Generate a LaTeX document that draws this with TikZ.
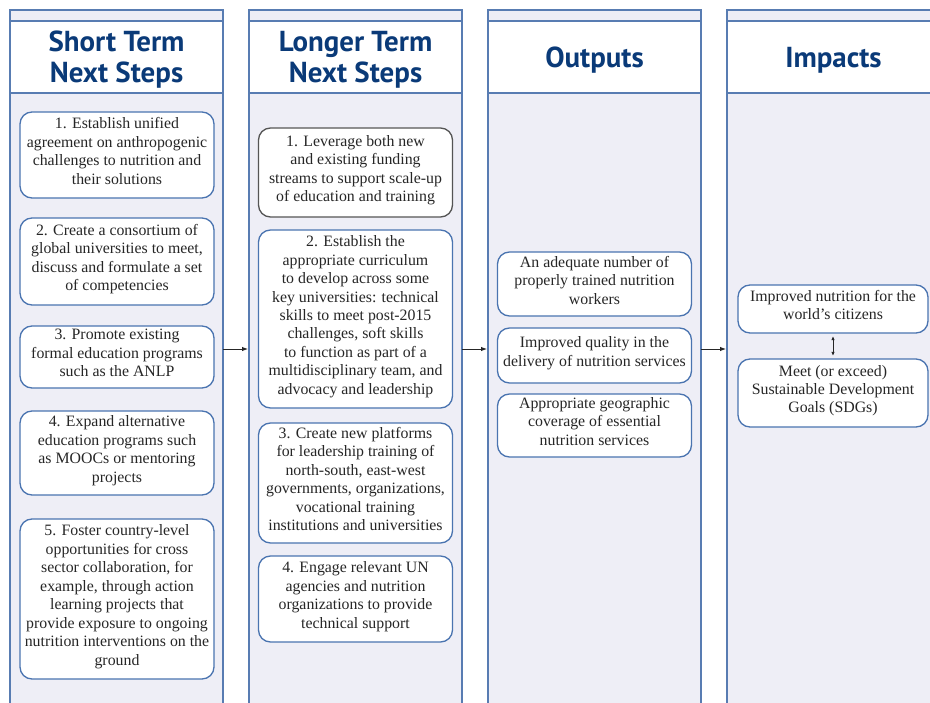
\documentclass[tikz,border=0pt]{standalone}
\usepackage{fontspec}
\setmainfont{Liberation Serif}
\newfontfamily\titulofont{PT Sans}
\usetikzlibrary{arrows.meta}
\definecolor{azulborde}{RGB}{88,124,178}
\definecolor{azulcaja}{RGB}{74,116,176}
\definecolor{azultitulo}{RGB}{10,58,120}
\definecolor{fondo}{RGB}{238,238,246}
\definecolor{grisborde}{RGB}{85,85,85}
\begin{document}
\begin{tikzpicture}[x=1bp,y=-1bp,
    columna/.style={draw=azulborde, line width=1.2bp},
    titulo/.style={font=\titulofont\bfseries\fontsize{29}{31}\selectfont, text=azultitulo, align=center},
    caja/.style={draw=azulcaja, fill=white, line width=1.3bp, rounded corners=12bp, align=center,
      minimum width=194bp, inner sep=0pt, execute at end node={\rule[-8bp]{0pt}{8bp}},
      font=\fontsize{15.9}{18.5}\selectfont, text=black!85},
    flecha/.style={-{Latex[length=6bp,width=4.5bp]}, line width=0.9bp, black!85},
    doble/.style={{Latex[length=4bp,width=3.5bp]}-{Latex[length=4bp,width=3.5bp]}, line width=0.8bp, black!85,
      shorten <=2.5bp, shorten >=2.5bp}]
    \clip (0,0) rectangle (930,703);
    % Columnas
    \foreach \x in {10,249,488,727} {
        \fill[fondo] (\x,10) rectangle ++(213,710);
        \fill[white] (\x,21) rectangle ++(213,72);
        \draw[columna] (\x,10) rectangle ++(213,710);
        \draw[columna] (\x,21) -- ++(213,0);
        \draw[columna] (\x,93) -- ++(213,0);
    }
    % Titulos
    \node[titulo] (t1) at (116.5,60) {Short Term\\Next Steps};
    \node[titulo] (t2) at (355.5,60) {Longer Term\\Next Steps};
    \node[titulo] (t3) at (594.5,60) {Outputs};
    \node[titulo] (t4) at (833.5,60) {Impacts};
    % Corto plazo
    \node[caja, minimum height=86bp] (a1) at (117,155) {1. Establish unified\\agreement on anthropogenic\\challenges to nutrition and\\their solutions};
    \node[caja, minimum height=87bp] (a2) at (117,261.5) {2. Create a consortium of\\global universities to meet,\\discuss and formulate a set\\of competencies};
    \node[caja, minimum height=62bp] (a3) at (117,357) {3. Promote existing\\formal education programs\\such as the ANLP};
    \node[caja, minimum height=84bp] (a4) at (117,453) {4. Expand alternative\\education programs such\\as MOOCs or mentoring\\projects};
    \node[caja, minimum height=160bp] (a5) at (117,599) {5. Foster country-level\\opportunities for cross\\sector collaboration, for\\example, through action\\learning projects that\\provide exposure to ongoing\\nutrition interventions on the\\ground};
    % Largo plazo
    \node[caja, draw=grisborde, minimum height=89bp] (b1) at (355.5,172.5) {1. Leverage both new\\and existing funding\\streams to support scale-up\\of education and training};
    \node[caja, minimum height=178bp] (b2) at (355.5,319) {2. Establish the\\appropriate curriculum\\to develop across some\\key universities: technical\\skills to meet post-2015\\challenges, soft skills\\to function as part of a\\multidisciplinary team, and\\advocacy and leadership};
    \node[caja, minimum height=120bp] (b3) at (355.5,483) {3. Create new platforms\\for leadership training of\\north-south, east-west\\governments, organizations,\\vocational training\\institutions and universities};
    \node[caja, minimum height=86bp] (b4) at (355.5,599) {4. Engage relevant UN\\agencies and nutrition\\organizations to provide\\technical support};
    % Resultados
    \node[caja, minimum height=64bp] (c1) at (594.5,284) {An adequate number of\\properly trained nutrition\\workers};
    \node[caja, minimum height=55bp] (c2) at (594.5,355.5) {Improved quality in the\\delivery of nutrition services};
    \node[caja, minimum height=63bp] (c3) at (594.5,425.5) {Appropriate geographic\\coverage of essential\\nutrition services};
    % Impactos
    \node[caja, minimum width=190bp, minimum height=48bp] (d1) at (833,309) {Improved nutrition for the\\world's citizens};
    \node[caja, minimum width=190bp, minimum height=68bp] (d2) at (833,393) {Meet (or exceed)\\Sustainable Development\\Goals (SDGs)};
    \draw[doble] (d1) -- (d2);
    % Flechas entre columnas
    \coordinate (s1) at (223,349); \coordinate (e1) at (248,349);
    \coordinate (s2) at (462,349); \coordinate (e2) at (487,349);
    \coordinate (s3) at (701,349); \coordinate (e3) at (726,349);
    \draw[flecha] (s1) -- (e1);
    \draw[flecha] (s2) -- (e2);
    \draw[flecha] (s3) -- (e3);
\end{tikzpicture}
\end{document}
